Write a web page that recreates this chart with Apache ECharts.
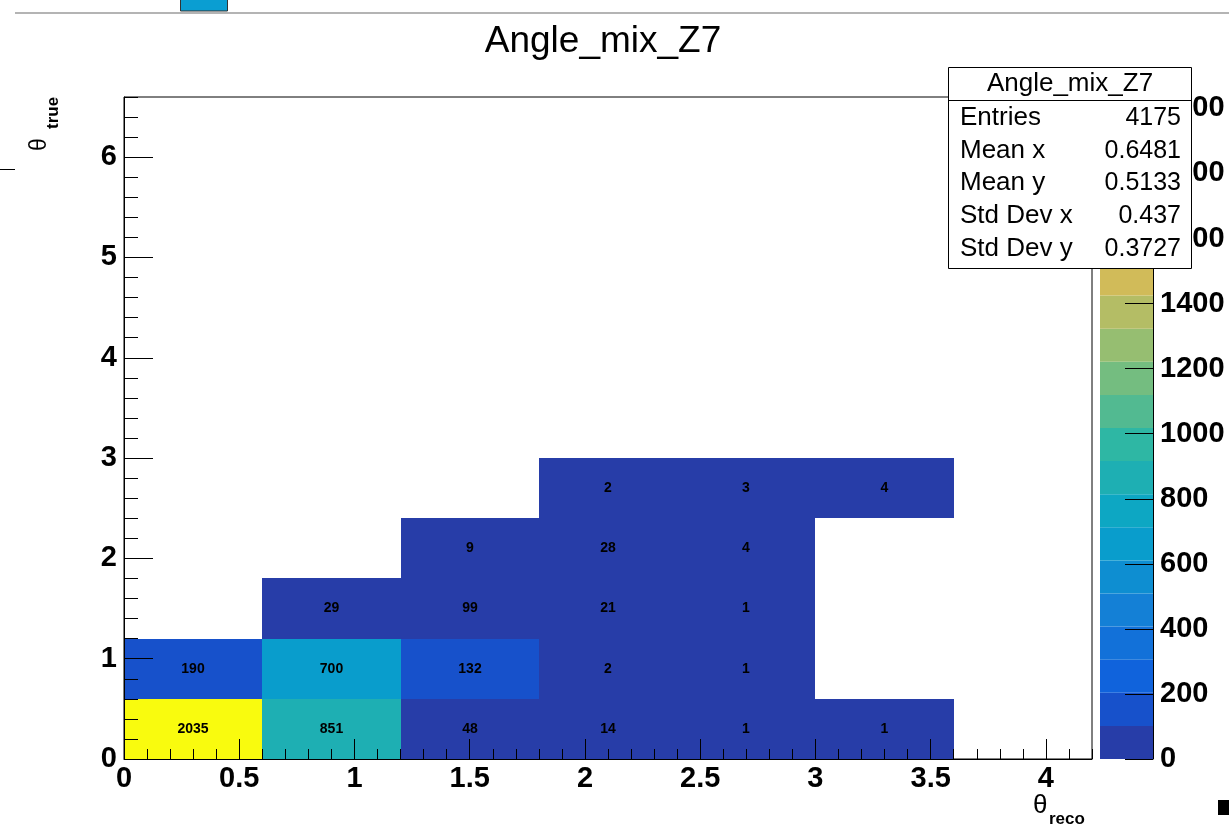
<!DOCTYPE html>
<html>
<head>
<meta charset="utf-8">
<script src="https://cdn.jsdelivr.net/npm/echarts@6/dist/echarts.min.js"></script>
<style>
html, body { margin: 0; padding: 0; background: #fff; }
#chart { width: 1229px; height: 833px; }
</style>
</head>
<body>
<div id="chart"></div>
<script>
// bin edges of the histogram
var xEdges = [0, 0.6, 1.2, 1.8, 2.4, 3.0, 3.6, 4.2];
var yEdges = [0, 0.6, 1.2, 1.8, 2.4, 3.0, 3.6, 4.2, 4.8, 5.4, 6.0, 6.6];
// [x bin, y bin, entries]
var binCounts = [
    [0, 0, 2035], [1, 0, 851], [2, 0, 48], [3, 0, 14], [4, 0, 1], [5, 0, 1],
    [0, 1, 190], [1, 1, 700], [2, 1, 132], [3, 1, 2], [4, 1, 1],
    [1, 2, 29], [2, 2, 99], [3, 2, 21], [4, 2, 1],
    [2, 3, 9], [3, 3, 28], [4, 3, 4],
    [3, 4, 2], [4, 4, 3], [5, 4, 4]
];
var xTickLabels = [0, 0.5, 1, 1.5, 2, 2.5, 3, 3.5, 4];
var yTickLabels = [0, 1, 2, 3, 4, 5, 6];
var zTickLabels = [0, 200, 400, 600, 800, 1000, 1200, 1400, 1600, 1800, 2000];
var statNames = ['Entries', 'Mean x', 'Mean y', 'Std Dev x', 'Std Dev y'];
var statValues = ['4175', '0.6481', '0.5133', '0.437', '0.3727'];
var histName = 'Angle_mix_Z7';
var zMax = 2035;
var nLevels = 20;

var FONT = 'Liberation Sans, Arial, Helvetica, sans-serif';
var TICK_FONT = 29;

// ROOT kBird palette
function birdColor(f) {
    var s = [0, 0.125, 0.25, 0.375, 0.5, 0.625, 0.75, 0.875, 1];
    var r = [0.2082, 0.0592, 0.0780, 0.0232, 0.1802, 0.5301, 0.8186, 0.9956, 0.9764];
    var g = [0.1664, 0.3599, 0.5041, 0.6419, 0.7178, 0.7492, 0.7328, 0.7862, 0.9832];
    var b = [0.5293, 0.8684, 0.8385, 0.7914, 0.6425, 0.4662, 0.3499, 0.1968, 0.0539];
    var k = 0;
    while (k < s.length - 2 && f > s[k + 1]) k++;
    var t = (f - s[k]) / (s[k + 1] - s[k]);
    function c(a) { return Math.round(255 * (a[k] + (a[k + 1] - a[k]) * t)); }
    return 'rgb(' + c(r) + ',' + c(g) + ',' + c(b) + ')';
}

var step = zMax / nLevels;
var levelColors = [];
var pieces = [];
for (var i = 0; i < nLevels; i++) {
    var idx = Math.floor((i + 0.99) * 255 / nLevels);
    levelColors.push(birdColor(idx / 254));
    var p = { gte: i * step, color: levelColors[i] };
    if (i < nLevels - 1) p.lt = (i + 1) * step; else p.lte = zMax + 1;
    pieces.push(p);
}

var xMinor = [], yMinor = [];
for (var i = 0; i <= 42; i++) xMinor.push(Math.round(i) / 10);
for (var i = 0; i <= 33; i++) yMinor.push(Math.round(i * 2) / 10);

var cellData = binCounts.map(function (b) {
    return [xEdges[b[0]], xEdges[b[0] + 1], yEdges[b[1]], yEdges[b[1] + 1], b[2]];
});

var chart = echarts.init(document.getElementById('chart'));

var barSeries = levelColors.map(function (col, i) {
    return {
        type: 'bar',
        xAxisIndex: 2,
        yAxisIndex: 2,
        stack: 'palette',
        barWidth: '100%',
        silent: true,
        z: 1,
        data: [step],
        itemStyle: { color: col, borderWidth: 0 }
    };
});

// stats box
var statGraphics = [
    { type: 'rect', z: 100, shape: { x: 948.5, y: 67.5, width: 243, height: 201 },
      style: { fill: '#fff', stroke: '#000', lineWidth: 1 } },
    { type: 'line', z: 101, shape: { x1: 948.5, y1: 100.5, x2: 1191.5, y2: 100.5 },
      style: { stroke: '#000', lineWidth: 1 } },
    { type: 'text', z: 101, x: 1070, y: 84,
      style: { text: histName, font: '26px ' + FONT, fill: '#000', align: 'center', verticalAlign: 'middle' } }
];
var rowY = [118, 151, 183, 216, 249];
statNames.forEach(function (n, i) {
    statGraphics.push({ type: 'text', z: 101, x: 960, y: rowY[i],
        style: { text: n, font: '26px ' + FONT, fill: '#000', align: 'left', verticalAlign: 'middle' } });
    statGraphics.push({ type: 'text', z: 101, x: 1181, y: rowY[i],
        style: { text: statValues[i], font: '25px ' + FONT, fill: '#000', align: 'right', verticalAlign: 'middle' } });
});

var plainLabel = function (v) { return String(v); };

var option = {
    backgroundColor: '#fff',
    animation: false,
    grid: [{
        left: 124, top: 97, width: 968, height: 662,
        show: true, borderColor: '#000', borderWidth: 1, backgroundColor: 'transparent'
    }, {
        left: 1100, top: 97, width: 53, height: 662
    }],
    visualMap: {
        type: 'piecewise',
        show: false,
        dimension: 4,
        seriesIndex: 0,
        pieces: pieces
    },
    xAxis: [{
        type: 'value', gridIndex: 0, min: 0, max: 4.2, position: 'bottom', z: 10,
        axisLine: { show: true, onZero: false, lineStyle: { color: '#000', width: 1 } },
        axisTick: { show: true, inside: true, length: 20, customValues: xTickLabels, lineStyle: { color: '#000' } },
        axisLabel: { customValues: xTickLabels, formatter: plainLabel, color: '#000', fontFamily: FONT, fontWeight: 'bold', fontSize: TICK_FONT, margin: 5 },
        splitLine: { show: false }
    }, {
        type: 'value', gridIndex: 0, min: 0, max: 4.2, position: 'bottom', z: 10,
        axisLine: { show: false },
        axisTick: { show: true, inside: true, length: 10, customValues: xMinor, lineStyle: { color: '#000' } },
        axisLabel: { show: false },
        splitLine: { show: false }
    }, {
        type: 'category', gridIndex: 1, data: ['z'], show: false
    }],
    yAxis: [{
        type: 'value', gridIndex: 0, min: 0, max: 6.6, position: 'left', z: 10,
        axisLine: { show: true, onZero: false, lineStyle: { color: '#000', width: 1 } },
        axisTick: { show: true, inside: true, length: 29, customValues: yTickLabels, lineStyle: { color: '#000' } },
        axisLabel: { customValues: yTickLabels, formatter: plainLabel, color: '#000', fontFamily: FONT, fontWeight: 'bold', fontSize: TICK_FONT, margin: 7 },
        splitLine: { show: false }
    }, {
        type: 'value', gridIndex: 0, min: 0, max: 6.6, position: 'left', z: 10,
        axisLine: { show: false },
        axisTick: { show: true, inside: true, length: 14, customValues: yMinor, lineStyle: { color: '#000' } },
        axisLabel: { show: false },
        splitLine: { show: false }
    }, {
        type: 'value', gridIndex: 1, min: 0, max: zMax, position: 'right', z: 10,
        axisLine: { show: true, lineStyle: { color: '#000', width: 1 } },
        axisTick: { show: true, inside: true, length: 28, customValues: zTickLabels, lineStyle: { color: '#000' } },
        axisLabel: { customValues: zTickLabels, formatter: plainLabel, color: '#000', fontFamily: FONT, fontWeight: 'bold', fontSize: TICK_FONT, margin: 7 },
        splitLine: { show: false }
    }],
    series: [{
        type: 'custom',
        xAxisIndex: 0,
        yAxisIndex: 0,
        z: 1,
        encode: { x: [0, 1], y: [2, 3] },
        data: cellData,
        renderItem: function (params, api) {
            var p0 = api.coord([api.value(0), api.value(2)]);
            var p1 = api.coord([api.value(1), api.value(3)]);
            var x0 = Math.round(p0[0]), x1 = Math.round(p1[0]);
            var yb = Math.round(p0[1]), yt = Math.round(p1[1]);
            return {
                type: 'rect',
                shape: { x: x0, y: yt, width: x1 - x0, height: yb - yt },
                style: { fill: api.visual('color') },
                textContent: {
                    style: { text: String(api.value(4)), font: 'bold 14px ' + FONT, fill: '#000' }
                },
                textConfig: { position: 'inside' }
            };
        }
    }].concat(barSeries),
    graphic: [
        // leftovers of the surrounding canvas
        { type: 'line', shape: { x1: 15, y1: 13, x2: 1229, y2: 13 }, style: { stroke: '#b4b4b4', lineWidth: 2 } },
        { type: 'rect', shape: { x: 180.5, y: -2, width: 47, height: 13 }, style: { fill: '#0a9ed2', stroke: '#333', lineWidth: 1 } },
        { type: 'line', shape: { x1: 0, y1: 169.5, x2: 15, y2: 169.5 }, style: { stroke: '#000', lineWidth: 1 } },
        { type: 'rect', shape: { x: 1218, y: 800, width: 11, height: 15 }, style: { fill: '#000' } },
        // title
        { type: 'text', x: 603, y: 42,
          style: { text: histName, font: '37px ' + FONT, fill: '#000', align: 'center', verticalAlign: 'middle' } },
        // x axis title
        { type: 'text', x: 1033, y: 793, style: { text: 'θ', font: '26px ' + FONT, fill: '#000' } },
        { type: 'text', x: 1049, y: 811, style: { text: 'reco', font: 'bold 17px ' + FONT, fill: '#000' } },
        // y axis title (rotated)
        { type: 'group', x: 28, y: 151, rotation: Math.PI / 2, children: [
            { type: 'text', x: 0, y: 0, style: { text: 'θ', font: '23px ' + FONT, fill: '#000' } },
            { type: 'text', x: 22, y: 17, style: { text: 'true', font: 'bold 17px ' + FONT, fill: '#000' } }
        ] }
    ].concat(statGraphics)
};

chart.setOption(option);
</script>
</body>
</html>
